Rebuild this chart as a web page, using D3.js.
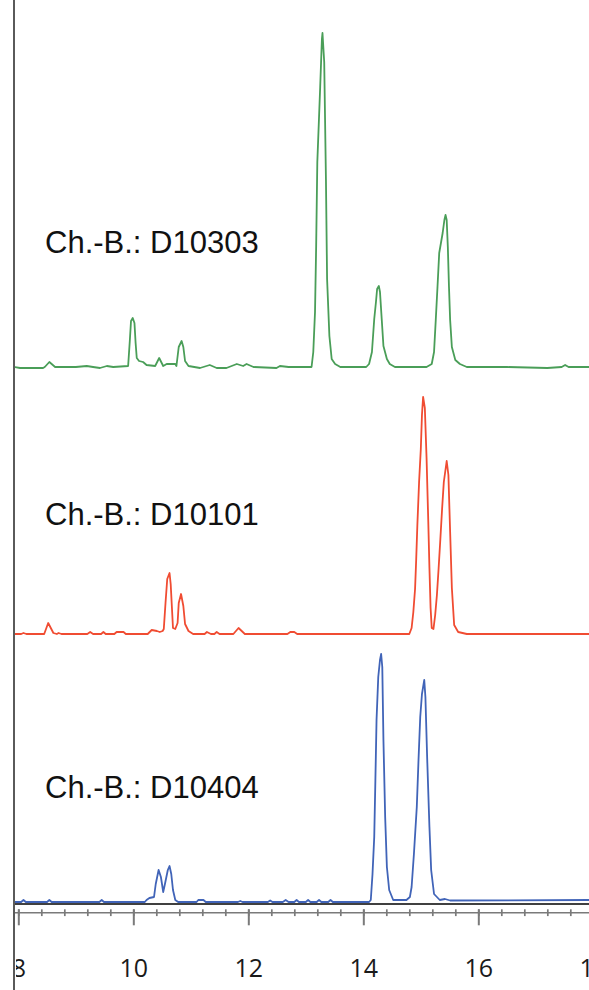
<!DOCTYPE html>
<html>
<head>
<meta charset="utf-8">
<script src="https://cdn.jsdelivr.net/npm/d3@7"></script>
<style>
  body { margin: 0; background: #fff; }
  svg { display: block; }
</style>
</head>
<body>
<div id="chart"></div>
<script>
// retention time (min) vs signal. [time, signal]
const traceD10303 = [
  [7.93,0],[8.03,-1],[8.43,-1],[8.46,0],[8.54,5],[8.64,0],[9.00,0],[9.19,1],[9.30,0],[9.42,-1],[9.54,1],[9.65,0],
  [9.91,1],[9.94,27],[9.96,46],[9.99,49],[10.02,44],[10.04,24],[10.06,9],[10.10,6],[10.17,5],[10.23,2],
  [10.38,1],[10.45,9],[10.52,1],[10.58,3],[10.73,3],[10.75,1],[10.79,20],[10.84,26],[10.87,20],[10.90,6],[10.96,1],
  [11.16,-1],[11.33,2],[11.45,-1],[11.62,-1],[11.80,3],[11.91,1],[11.97,3],[12.09,0],[12.49,-1],[12.55,1],[12.70,0],
  [13.10,0],[13.13,15],[13.16,55],[13.18,121],[13.20,205],[13.25,280],[13.28,328],[13.29,334],[13.32,305],[13.35,188],
  [13.37,88],[13.41,31],[13.45,8],[13.51,3],[13.60,0],
  [14.05,0],[14.10,3],[14.15,15],[14.19,48],[14.22,65],[14.24,78],[14.27,81],[14.29,75],[14.32,48],[14.35,21],[14.41,8],[14.46,3],[14.55,0],
  [15.10,0],[15.19,3],[15.23,15],[15.26,47],[15.29,80],[15.32,114],[15.38,134],[15.41,147],[15.43,152],[15.45,147],
  [15.47,120],[15.49,80],[15.51,47],[15.54,20],[15.60,7],[15.68,3],[15.80,0],[16.50,0],[17.20,-1],[17.45,0],[17.51,2],[17.57,0],[17.93,0]
];

const traceD10101 = [
  [7.93,0],[8.05,0],[8.09,1],[8.14,0],[8.45,0],[8.52,11],[8.61,1],[8.67,0],[8.70,1],[8.75,0],[9.20,0],[9.25,2],[9.30,0],
  [9.44,0],[9.48,2],[9.52,0],[9.67,0],[9.71,2],[9.83,2],[9.87,0],[10.25,0],[10.32,4],[10.41,3],[10.46,2],[10.51,3],
  [10.53,5],[10.56,31],[10.59,55],[10.63,61],[10.65,50],[10.67,28],[10.69,6],[10.73,5],[10.77,11],[10.79,31],[10.83,40],
  [10.87,28],[10.90,10],[10.96,3],[11.04,0],[11.24,0],[11.28,2],[11.35,0],[11.41,0],[11.45,2],[11.50,0],[11.74,0],[11.83,6],
  [11.94,0],[12.68,0],[12.73,2],[12.80,2],[12.85,0],
  [14.80,0],[14.84,6],[14.87,22],[14.90,45],[14.92,75],[14.94,109],[14.97,152],[15.00,185],[15.02,219],[15.04,237],
  [15.07,226],[15.10,176],[15.13,112],[15.15,66],[15.17,26],[15.19,6],[15.22,5],[15.25,19],[15.28,39],[15.31,66],
  [15.34,95],[15.37,125],[15.40,152],[15.45,173],[15.48,159],[15.51,102],[15.54,46],[15.58,9],[15.65,2],[15.80,0],[17.93,0]
];

const traceD10404 = [
  [7.93,0],[8.05,0],[8.09,2],[8.13,0],[8.50,0],[8.54,2],[8.58,0],[9.41,0],[9.45,2],[9.49,0],
  [10.20,0],[10.23,2],[10.28,4],[10.36,5],[10.39,18],[10.44,32],[10.48,25],[10.52,10],[10.55,18],[10.60,32],[10.63,36],
  [10.66,28],[10.69,12],[10.73,2],[10.78,0],[11.10,0],[11.13,2],[11.22,2],[11.26,0],[11.82,0],[11.86,1],[11.90,0],
  [12.34,0],[12.38,1.5],[12.42,0],[12.60,0],[12.65,2],[12.70,0],[12.80,0],[12.84,2],[12.88,0],[13.00,0],[13.04,2],[13.08,0],
  [13.19,0],[13.23,2],[13.27,0],[13.39,0],[13.43,2],[13.47,0],[14.10,0],
  [14.13,2],[14.16,28],[14.19,65],[14.21,122],[14.23,182],[14.26,225],[14.29,242],[14.31,248],[14.33,235],[14.35,162],
  [14.38,85],[14.41,35],[14.45,12],[14.52,2],[14.75,2],[14.81,5],
  [14.84,15],[14.88,48],[14.93,95],[14.96,142],[14.99,185],[15.02,208],[15.06,222],[15.08,205],[15.11,145],[15.15,75],
  [15.18,32],[15.23,8],[15.33,2],[15.42,3],[15.51,1.5],[17.93,2]
];

const sampleLabels = ['Ch.-B.: D10303', 'Ch.-B.: D10101', 'Ch.-B.: D10404'];
const stackOffsets = [535, 268, 0];   // signal offset of each stacked trace
const xTickLabels = [8, 10, 12, 14, 16, 18];

const traces = [traceD10303, traceD10101, traceD10404];
const colors = ['#4a9e58', '#f04c32', '#4164b8'];
const labelLift = [114, 109, 104];

const w = 589;
const h = 990;
const left = 14;
const baseY = 902;

const svg = d3.select('#chart').append('svg').attr('width', w).attr('height', h);

const x = d3.scaleLinear().domain([7.925, 17.925]).range([left, w]);
const y = d3.scaleLinear().domain([0, 900]).range([baseY, baseY - 900]);

svg.append('clipPath').attr('id', 'plotClip')
  .append('rect').attr('x', left + 1).attr('y', -1000).attr('width', w - left).attr('height', 3000);
svg.append('clipPath').attr('id', 'labelClip')
  .append('rect').attr('x', left + 2).attr('y', -1000).attr('width', w - left).attr('height', 3000);

// x axis: grey line with crossing ticks
const axisY = 912.7;
const tickGrey = '#7a7a7a';
svg.append('line')
  .attr('x1', left).attr('x2', w).attr('y1', axisY).attr('y2', axisY)
  .attr('stroke', tickGrey).attr('stroke-width', 1.6);

const minorTicks = d3.range(0, 26).map(i => 8 + i * 0.4);
const minorAxis = svg.append('g')
  .attr('clip-path', 'url(#plotClip)')
  .attr('transform', `translate(0,${axisY - 3.4})`)
  .call(d3.axisBottom(x).tickValues(minorTicks).tickSize(6.8).tickFormat(''));
minorAxis.select('.domain').remove();
minorAxis.selectAll('line').attr('stroke', tickGrey).attr('stroke-width', 1.7);

const majorAxis = svg.append('g')
  .attr('clip-path', 'url(#labelClip)')
  .attr('transform', `translate(0,${axisY - 3.4})`)
  .call(d3.axisBottom(x).tickValues(xTickLabels).tickSize(16).tickPadding(34).tickFormat(d3.format('d')));
majorAxis.select('.domain').remove();
majorAxis.selectAll('line').attr('stroke', tickGrey).attr('stroke-width', 2);
majorAxis.selectAll('text')
  .attr('font-family', '"Open Sans", sans-serif')
  .attr('font-size', 25)
  .attr('fill', '#1a1a1a');

// black zero line under the lowest trace
svg.append('line')
  .attr('x1', left).attr('x2', w).attr('y1', 904).attr('y2', 904)
  .attr('stroke', '#000').attr('stroke-width', 1.6);

// traces
const line = d3.line();
const traceG = svg.append('g').attr('clip-path', 'url(#plotClip)');
traces.forEach(function (data, i) {
  line.x(d => x(d[0])).y(d => y(d[1] + stackOffsets[i]));
  traceG.append('path')
    .datum(data)
    .attr('d', line)
    .attr('fill', 'none')
    .attr('stroke', colors[i])
    .attr('stroke-width', 1.8)
    .attr('stroke-linejoin', 'round');
});

// sample labels
svg.selectAll('.label')
  .data(sampleLabels)
  .enter().append('text')
  .attr('class', 'label')
  .attr('x', 45)
  .attr('y', (d, i) => y(stackOffsets[i]) - labelLift[i])
  .attr('font-family', '"Liberation Sans", Arial, sans-serif')
  .attr('font-size', 31)
  .attr('fill', '#111')
  .text(d => d);

// left vertical axis line
svg.append('line')
  .attr('x1', left).attr('x2', left).attr('y1', 0).attr('y2', h)
  .attr('stroke', '#5a5a5a').attr('stroke-width', 2);
</script>
</body>
</html>
